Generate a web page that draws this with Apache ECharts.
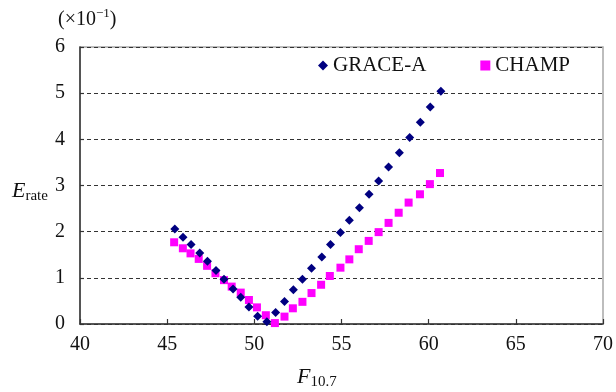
<!DOCTYPE html>
<html><head><meta charset="utf-8">
<script src="https://cdn.jsdelivr.net/npm/echarts@6/dist/echarts.min.js"></script>
<style>html,body{margin:0;padding:0;background:#fff}#c{width:616px;height:392px}</style>
</head><body><div id="c"></div>
<script>
var graceF = [45.44,45.91,46.37,46.87,47.31,47.80,48.26,48.78,49.22,49.69,50.19,50.72,51.22,51.73,52.24,52.76,53.28,53.87,54.37,54.94,55.45,56.03,56.58,57.13,57.70,58.32,58.91,59.52,60.09,60.70];
var graceE = [2.06,1.88,1.72,1.54,1.36,1.16,0.97,0.76,0.58,0.37,0.17,0.05,0.25,0.49,0.74,0.97,1.21,1.45,1.72,1.98,2.25,2.52,2.81,3.10,3.40,3.71,4.04,4.37,4.70,5.04];
var champF = [45.40,45.90,46.34,46.81,47.29,47.77,48.26,48.70,49.22,49.69,50.15,50.66,51.18,51.73,52.21,52.76,53.28,53.83,54.33,54.94,55.45,55.99,56.56,57.13,57.70,58.28,58.85,59.50,60.07,60.65];
var champE = [1.77,1.64,1.53,1.41,1.26,1.10,0.95,0.81,0.68,0.52,0.36,0.19,0.02,0.16,0.34,0.48,0.67,0.85,1.04,1.22,1.40,1.62,1.80,1.99,2.19,2.41,2.63,2.81,3.03,3.27];
var seriesNames = ['GRACE-A','CHAMP'];
var xTitle = {main:'F', sub:'10.7'};
var yTitle = {main:'E', sub:'rate'};
var scaleNote = {pre:'(×10', sup:'−1', post:')'};

function pairs(a,b){return a.map(function(v,i){return [v,b[i]];});}
var serif = '"Liberation Serif","Times New Roman",serif';
var chart = echarts.init(document.getElementById('c'), null, {renderer:'canvas'});
chart.setOption({
  animation:false,
  backgroundColor:'#fff',
  grid:{left:80,right:12,top:47,bottom:68,show:true,borderColor:'#a8a8a8',borderWidth:1.5,backgroundColor:'transparent'},
  legend:{left:318,top:55,itemGap:54,itemWidth:10,itemHeight:10,padding:0,
    textStyle:{fontFamily:serif,fontSize:21,color:'#111'},
    data:[{name:seriesNames[0],icon:'diamond'},{name:seriesNames[1],icon:'rect'}]},
  xAxis:{type:'value',min:40,max:70,interval:5,
    axisLine:{show:true,onZero:false,lineStyle:{color:'#333',width:1.5}},
    axisTick:{show:true,inside:true,length:5,lineStyle:{color:'#333',width:1.2}},
    axisLabel:{fontFamily:serif,fontSize:20,color:'#111',margin:11},
    splitLine:{show:false}},
  yAxis:{type:'value',min:0,max:6,interval:1,
    axisLine:{show:true,lineStyle:{color:'#333',width:1.5}},
    axisTick:{show:true,inside:true,length:4,lineStyle:{color:'#333',width:1.2}},
    axisLabel:{fontFamily:serif,fontSize:20,color:'#111',margin:15},
    splitLine:{show:true,lineStyle:{color:'#333',width:1.2,type:[4,3]}}},
  series:[
    {name:seriesNames[0],type:'scatter',symbol:'diamond',symbolSize:9,itemStyle:{color:'#000080',opacity:1},data:pairs(graceF,graceE),z:3},
    {name:seriesNames[1],type:'scatter',symbol:'rect',symbolSize:8,itemStyle:{color:'#ff00ff',opacity:1},data:pairs(champF,champE),z:2}
  ],
  graphic:[
    {type:'text',left:297,top:364,style:{
      text:'{m|'+xTitle.main+'}{s|'+xTitle.sub+'}',
      rich:{m:{fontFamily:serif,fontSize:22,fontStyle:'italic',fill:'#111',lineHeight:26},
            s:{fontFamily:serif,fontSize:15,fill:'#111',padding:[11,0,0,0],lineHeight:26}}}},
    {type:'text',left:12,top:178,style:{
      text:'{m|'+yTitle.main+'}{s|'+yTitle.sub+'}',
      rich:{m:{fontFamily:serif,fontSize:22,fontStyle:'italic',fill:'#111',lineHeight:26},
            s:{fontFamily:serif,fontSize:15,fill:'#111',padding:[11,0,0,0],lineHeight:26}}}},
    {type:'text',left:58,top:6,style:{
      text:'{a|'+scaleNote.pre+'}{b|'+scaleNote.sup+'}{a|'+scaleNote.post+'}',
      rich:{a:{fontFamily:serif,fontSize:20,fill:'#111',lineHeight:26,padding:[4,0,0,0]},
            b:{fontFamily:serif,fontSize:13,fill:'#111',lineHeight:26,padding:[0,0,9,0]}}}}
  ]
});
</script></body></html>
